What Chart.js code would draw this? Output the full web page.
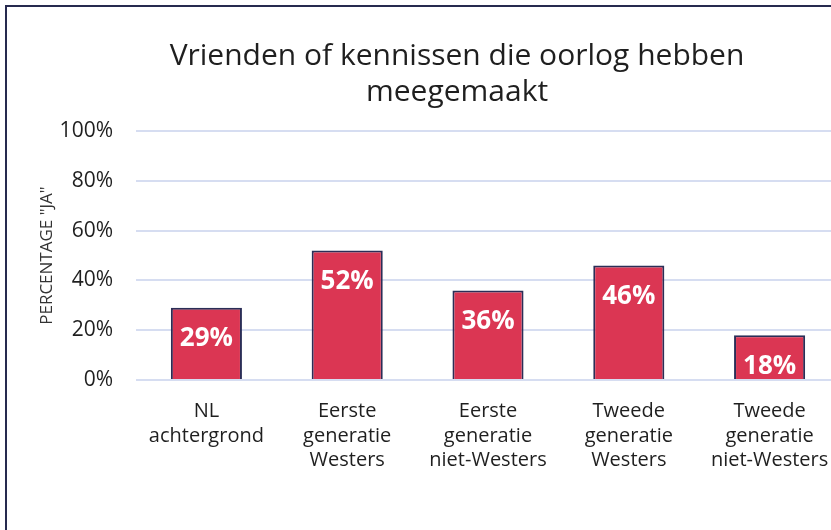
<!DOCTYPE html>
<html>
<head>
<meta charset="utf-8">
<script src="https://cdn.jsdelivr.net/npm/chart.js@4.4.1/dist/chart.umd.min.js"></script>
<style>
    html, body { margin: 0; padding: 0; background: #ffffff; overflow: hidden; }
    .frame {
        position: absolute; left: 5px; top: 5px; width: 1000px; height: 1000px;
        border-left: 2px solid #262a4f; border-top: 2px solid #262a4f;
    }
    .chart-box { position: absolute; left: 0; top: 0; width: 914px; height: 530px; }
</style>
</head>
<body>
<div class="frame"></div>
<div class="chart-box"><canvas id="warChart" width="914" height="530"></canvas></div>
<script>
// --- Chart data ---
const categories = [
    ['NL', 'achtergrond'],
    ['Eerste', 'generatie', 'Westers'],
    ['Eerste', 'generatie', 'niet-Westers'],
    ['Tweede', 'generatie', 'Westers'],
    ['Tweede', 'generatie', 'niet-Westers']
];
const percentYes = [29, 52, 36, 46, 18];
const yTicks = [0, 20, 40, 60, 80, 100];

const titleLines = ['Vrienden of kennissen die oorlog hebben', 'meegemaakt'];
const axisTitle = 'PERCENTAGE "JA"';

const FONT = "'Open Sans', 'DejaVu Sans', sans-serif";
const TEXT = '#1f1f1f';

// --- Value labels inside the top of each bar ---
const barLabels = {
    id: 'barLabels',
    afterDatasetsDraw(chart) {
        const ctx = chart.ctx;
        const meta = chart.getDatasetMeta(0);
        ctx.save();
        ctx.font = 'bold 26px ' + FONT;
        ctx.fillStyle = '#ffffff';
        ctx.textAlign = 'center';
        ctx.textBaseline = 'middle';
        meta.data.forEach((bar, i) => {
            ctx.fillText(percentYes[i] + '%', bar.x, bar.y + 31);
        });
        ctx.restore();
    }
};

new Chart(document.getElementById('warChart').getContext('2d'), {
    type: 'bar',
    data: {
        labels: categories,
        datasets: [{
            data: percentYes,
            backgroundColor: '#db3653',
            borderColor: '#2b2e57',
            borderWidth: 2,
            borderSkipped: 'bottom',
            barPercentage: 0.505,
            categoryPercentage: 1
        }]
    },
    options: {
        responsive: false,
        animation: false,
        layout: { padding: 0 },
        plugins: {
            legend: { display: false },
            tooltip: { enabled: false },
            title: {
                display: true,
                text: titleLines,
                color: TEXT,
                font: { family: FONT, size: 30, weight: 'normal', lineHeight: 1.22 },
                padding: { top: 38, bottom: 20 }
            }
        },
        scales: {
            x: {
                grid: { display: false },
                border: { display: false },
                ticks: {
                    color: TEXT,
                    font: { family: FONT, size: 20, lineHeight: 1.23 },
                    padding: 11,
                    maxRotation: 0,
                    autoSkip: false
                },
                afterFit: s => { s.height = 150; }
            },
            y: {
                min: 0,
                max: 100,
                afterBuildTicks: s => { s.ticks = yTicks.map(v => ({ value: v })); },
                grid: { color: '#d6ddf1', lineWidth: 2, drawTicks: false },
                border: { display: false },
                ticks: {
                    color: TEXT,
                    font: { family: FONT, size: 21 },
                    padding: 23,
                    callback: v => v + '%'
                },
                title: {
                    display: true,
                    text: axisTitle,
                    color: '#333333',
                    font: { family: FONT, size: 17 },
                    padding: { top: 37, bottom: 0 }
                },
                afterFit: s => { s.width = 136; }
            },
            // empty right-hand margin of the original (cropped) chart frame
            yRight: {
                position: 'right',
                display: true,
                grid: { display: false },
                border: { display: false },
                ticks: { display: false },
                afterFit: s => { s.width = 74; }
            }
        }
    },
    plugins: [barLabels]
});
</script>
</body>
</html>
